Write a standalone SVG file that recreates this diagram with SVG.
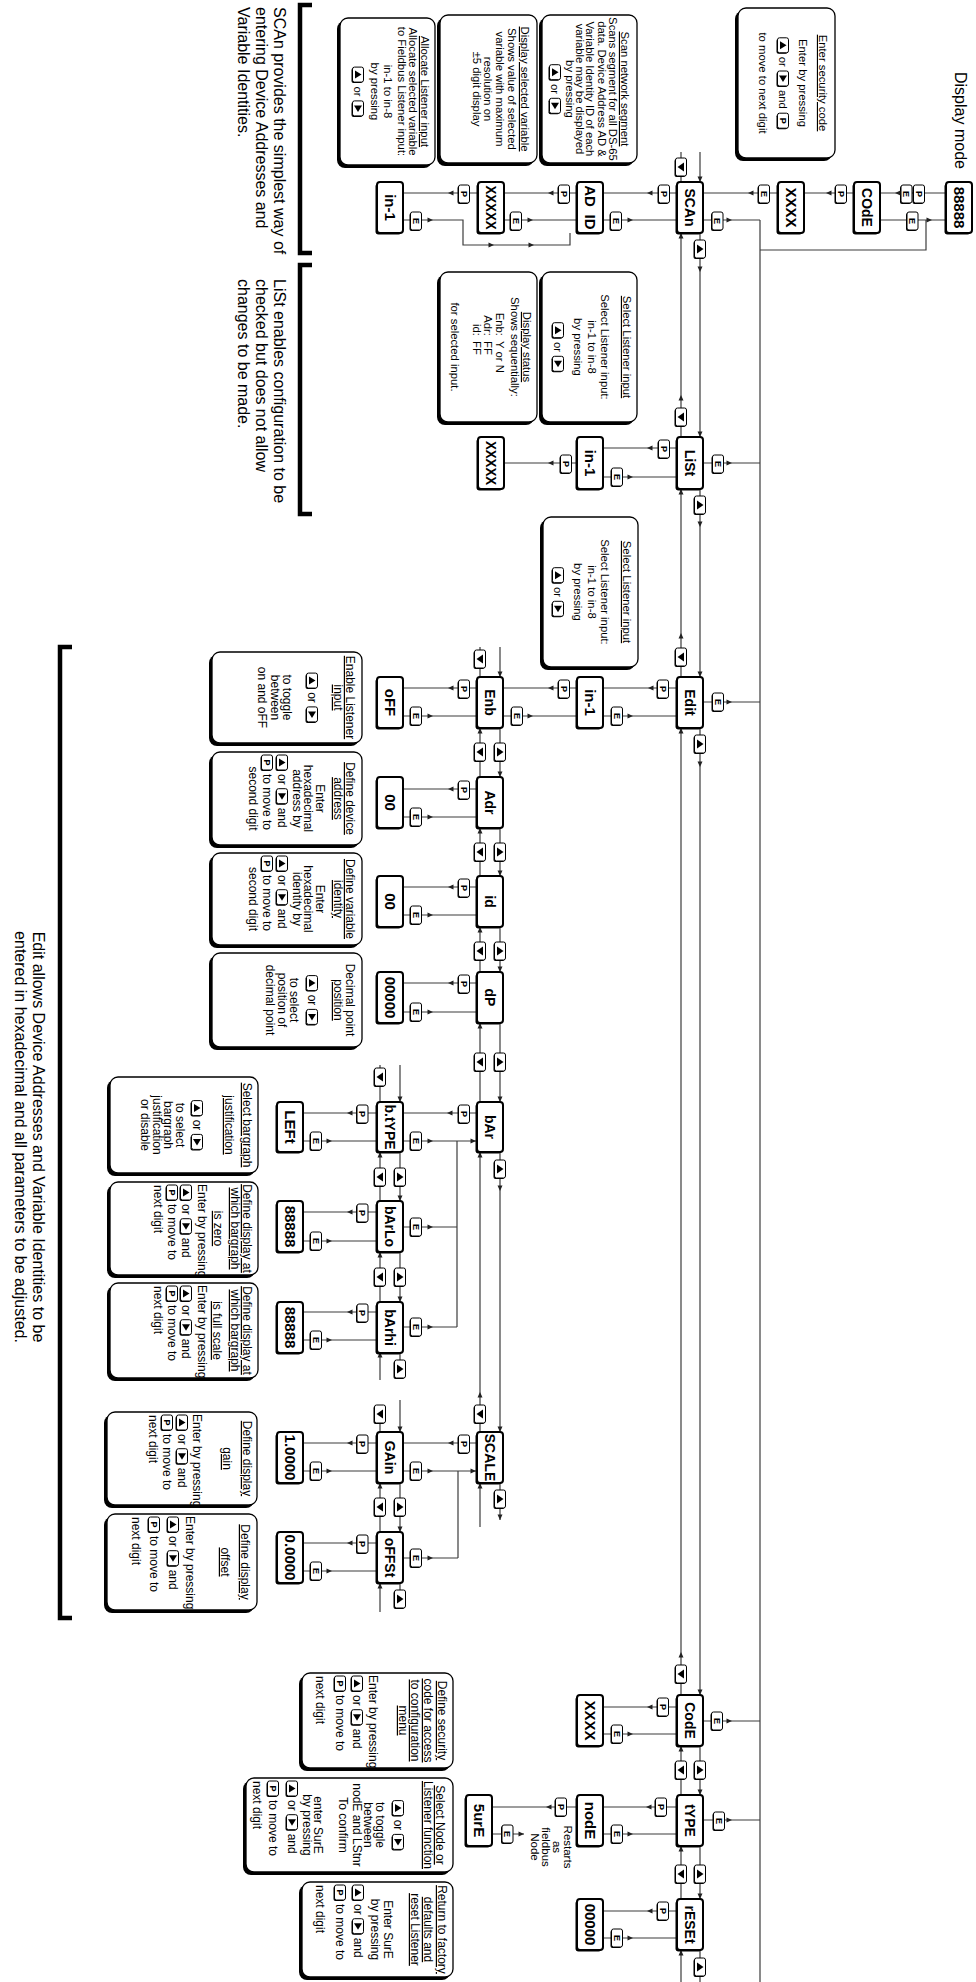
<svg xmlns="http://www.w3.org/2000/svg" width="976" height="1982" viewBox="0 0 976 1982">
<style>
text{font-family:"Liberation Sans",Arial,Helvetica,sans-serif;fill:#000}
.ln{fill:none;stroke:#3c3c3c;stroke-width:1.2}
.nb{fill:#fff;stroke:#000;stroke-width:2}
.ns{fill:#000}
.nt{font-size:14px;font-weight:bold;text-anchor:middle}
.nv{font-size:15px;font-weight:bold;text-anchor:middle}
.db{fill:#fff;stroke:#000;stroke-width:1.3}
.ds{fill:#000}
.s11{font-size:11.3px}
.s12{font-size:12px}
.rn{font-size:11.5px}
.c{text-anchor:middle}
.u{text-decoration:underline}
.kb{fill:#fff;stroke:#000;stroke-width:1}
.kt{font-size:9px;font-weight:bold;text-anchor:middle}
.big{font-size:16px}
.br{fill:none;stroke:#000;stroke-width:4.5}
.ar{fill:#222}
</style>
<defs>
<g id="kE"><rect x="-8" y="-4.5" width="18" height="11" rx="2" fill="#000"/><rect class="kb" x="-9" y="-5.5" width="18" height="11" rx="2"/><text class="kt" x="0" y="3.2">E</text></g>
<g id="kP"><rect x="-8" y="-4.5" width="18" height="11" rx="2" fill="#000"/><rect class="kb" x="-9" y="-5.5" width="18" height="11" rx="2"/><text class="kt" x="0" y="3.2">P</text></g>
<g id="kU"><rect x="-8" y="-4.5" width="18" height="11" rx="2" fill="#000"/><rect class="kb" x="-9" y="-5.5" width="18" height="11" rx="2"/><path d="M-4.5 3 L4.5 3 L0 -3.5 Z" fill="#000"/></g>
<g id="kD"><rect x="-8" y="-4.5" width="18" height="11" rx="2" fill="#000"/><rect class="kb" x="-9" y="-5.5" width="18" height="11" rx="2"/><path d="M-4.5 -3 L4.5 -3 L0 3.5 Z" fill="#000"/></g>
<g id="iU"><rect x="-6.5" y="-4.5" width="15" height="11" rx="2" fill="#000"/><rect class="kb" x="-7.5" y="-5.5" width="15" height="11" rx="2"/><path d="M-4 3 L4 3 L0 -3.5 Z" fill="#000"/></g>
<g id="iR"><rect x="-6.5" y="-4.5" width="15" height="11" rx="2" fill="#000"/><rect class="kb" x="-7.5" y="-5.5" width="15" height="11" rx="2"/><path d="M-3 -4 L-3 4 L3.5 0 Z" fill="#000"/></g>
<g id="iP"><rect x="-6.5" y="-4.5" width="15" height="11" rx="2" fill="#000"/><rect class="kb" x="-7.5" y="-5.5" width="15" height="11" rx="2"/><text class="kt" x="0" y="3.2">P</text></g>
<path id="aR" class="ar" d="M0 0 L-5.5 -2.5 L-5.5 2.5 Z"/>
<path id="aL" class="ar" d="M0 0 L5.5 -2.5 L5.5 2.5 Z"/>
<path id="aU" class="ar" d="M0 0 L-2.5 5.5 L2.5 5.5 Z"/>
<path id="aD" class="ar" d="M0 0 L-2.5 -5.5 L2.5 -5.5 Z"/>
</defs>
<rect width="976" height="1982" fill="#fff"/>
<g transform="translate(976 0) rotate(90)">

<text class="big" x="72" y="21">Display mode</text>

<g id="connectors">
<path class="ln" d="M152 276H182M182 295H152M233 276H437M437 295H233M489 276H677M677 295H489M728 276H1695M1695 295H728M1746 276H1795M1795 295H1746M1846 276H1899M1899 295H1846M1950 276H1982M1982 295H1950"/>
<path class="ln" d="M220 216H1982M220 273V216M463 273V216M702 273V216M1721 273V216M1820 273V216M250 216V50H220M220 96V30M193 30V96M193 122V172M193 198V273"/>
<path class="ln" d="M193 299V373M220 373V299M193 399V472M220 472V399M193 499V573M220 573V513H245V406H233"/>
<path class="ln" d="M448 299V373M477 373V299M463 399V472"/>
<path class="ln" d="M688 299V373M716 373V299M688 399V473M716 473V399M688 499V573M716 573V499"/>
<path class="ln" d="M647 476H677M677 496H647M728 476H777M777 496H728M828 476H876M876 496H828M927 476H972M972 496H927M1023 476H1102M1102 496H1023M1152 476H1432M1432 496H1152M1483 476H1520M1527 496H1483"/>
<path class="ln" d="M789 499V573M817 573V499M887 499V573M915 573V499M983 499V573M1012 573V499M1113 499V573M1141 573V499M1141 519H1327M1227 573V519M1327 573V519M1443 499V573M1471 573V499M1471 518H1558M1558 573V518"/>
<path class="ln" d="M1065 576H1102M1102 596H1065M1152 576H1201M1201 596H1152M1252 576H1302M1302 596H1252M1352 576H1362M1380 596H1352M1400 576H1432M1432 596H1405M1483 576H1532M1532 596H1483M1583 576H1592M1612 596H1583"/>
<path class="ln" d="M1113 599V673M1141 673V599M1212 599V673M1241 673V599M1312 599V673M1340 673V599M1443 599V673M1471 673V599M1543 599V673M1571 673V599"/>
<path class="ln" d="M1707 299V373M1734 373V299M1807 299V373M1834 373V299M1807 399V484M1834 484V452M1911 299V373M1938 373V299"/>

<use href="#kD" x="167" y="295"/>
<use href="#kU" x="249" y="276"/><use href="#aR" x="272" y="276"/><use href="#aR" x="437" y="276"/>
<use href="#kD" x="417" y="295"/><use href="#aL" x="395" y="295"/><use href="#aL" x="233" y="295"/>
<use href="#aR" x="182" y="276"/>
<use href="#kU" x="505" y="276"/><use href="#aR" x="527" y="276"/><use href="#aR" x="677" y="276"/>
<use href="#kD" x="657" y="295"/><use href="#aL" x="633" y="295"/><use href="#aL" x="489" y="295"/>
<use href="#kU" x="744" y="276"/><use href="#aR" x="767" y="276"/><use href="#aR" x="1695" y="276"/>
<use href="#kD" x="1674" y="295"/><use href="#aL" x="1652" y="295"/><use href="#aL" x="728" y="295"/>
<use href="#kU" x="1770" y="276"/><use href="#aR" x="1795" y="276"/>
<use href="#kD" x="1770" y="295"/><use href="#aL" x="1746" y="295"/>
<use href="#kU" x="1874" y="276"/><use href="#aR" x="1899" y="276"/>
<use href="#kD" x="1874" y="295"/><use href="#aL" x="1846" y="295"/>
<use href="#kU" x="1967" y="276"/><use href="#aL" x="1950" y="295"/>

<use href="#kE" x="221" y="258.5"/><use href="#aU" x="220" y="244"/>
<use href="#kE" x="464" y="258"/><use href="#aU" x="463" y="244"/>
<use href="#kE" x="702" y="258"/><use href="#aU" x="702" y="244"/>
<use href="#kE" x="1721" y="259"/><use href="#aU" x="1721" y="244"/>
<use href="#kE" x="1821" y="257"/><use href="#aU" x="1820" y="244"/>
<use href="#kE" x="221" y="63.5"/><use href="#aU" x="220" y="44"/>
<use href="#kP" x="194" y="57"/><use href="#kE" x="194" y="69.5"/><use href="#aD" x="193" y="81"/>
<use href="#kP" x="194" y="135"/><use href="#aD" x="193" y="150"/>
<use href="#kE" x="194" y="212"/><use href="#aD" x="193" y="228"/>

<use href="#kP" x="194" y="312"/><use href="#aD" x="193" y="329"/>
<use href="#kE" x="221" y="360"/><use href="#aU" x="220" y="343"/>
<use href="#kP" x="194" y="412"/><use href="#aD" x="193" y="428"/>
<use href="#kE" x="221" y="460"/><use href="#aU" x="220" y="443"/>
<use href="#kP" x="194" y="512"/><use href="#aD" x="193" y="528"/>
<use href="#kE" x="221" y="560"/><use href="#aU" x="220" y="543"/>
<use href="#aU" x="245" y="482"/><use href="#aU" x="245" y="442"/>

<use href="#kP" x="449" y="312"/><use href="#aD" x="448" y="329"/>
<use href="#kE" x="477" y="359"/><use href="#aU" x="477" y="343"/>
<use href="#kP" x="464" y="410"/><use href="#aD" x="463" y="428"/>

<use href="#kP" x="689" y="313"/><use href="#aD" x="688" y="328"/>
<use href="#kE" x="716" y="359"/><use href="#aU" x="716" y="343"/>
<use href="#kP" x="689" y="412"/><use href="#aD" x="688" y="428"/>
<use href="#kE" x="716" y="459"/><use href="#aU" x="716" y="443"/>
<use href="#kP" x="689" y="512"/><use href="#aD" x="688" y="528"/>
<use href="#kE" x="716" y="560"/><use href="#aU" x="716" y="543"/>

<use href="#aR" x="677" y="476"/><use href="#kD" x="659" y="496"/>
<use href="#kU" x="752" y="476"/><use href="#aR" x="777" y="476"/><use href="#kD" x="752" y="496"/><use href="#aL" x="728" y="496"/>
<use href="#kU" x="852" y="476"/><use href="#aR" x="876" y="476"/><use href="#kD" x="852" y="496"/><use href="#aL" x="828" y="496"/>
<use href="#kU" x="951" y="476"/><use href="#aR" x="972" y="476"/><use href="#kD" x="951" y="496"/><use href="#aL" x="927" y="496"/>
<use href="#kU" x="1062" y="476"/><use href="#aR" x="1102" y="476"/><use href="#kD" x="1062" y="496"/><use href="#aL" x="1023" y="496"/>
<use href="#kU" x="1169" y="476"/><use href="#aR" x="1191" y="476"/><use href="#aR" x="1432" y="476"/>
<use href="#kD" x="1414" y="496"/><use href="#aL" x="1392" y="496"/><use href="#aL" x="1152" y="496"/>
<use href="#kU" x="1499" y="476"/><use href="#aR" x="1520" y="476"/><use href="#aL" x="1483" y="496"/>

<use href="#kP" x="790" y="512"/><use href="#aD" x="789" y="528"/><use href="#kE" x="817" y="560"/><use href="#aU" x="817" y="543"/>
<use href="#kP" x="888" y="512"/><use href="#aD" x="887" y="528"/><use href="#kE" x="915" y="560"/><use href="#aU" x="915" y="543"/>
<use href="#kP" x="984" y="512"/><use href="#aD" x="983" y="528"/><use href="#kE" x="1012" y="560"/><use href="#aU" x="1012" y="543"/>
<use href="#kP" x="1114" y="512"/><use href="#aD" x="1113" y="529"/><use href="#kE" x="1141" y="560"/><use href="#aU" x="1141" y="543"/><use href="#aU" x="1141" y="500"/>
<use href="#kE" x="1227" y="560"/><use href="#aU" x="1227" y="543"/>
<use href="#kE" x="1327" y="560"/><use href="#aU" x="1327" y="543"/>
<use href="#kP" x="1444" y="512"/><use href="#aD" x="1443" y="528"/><use href="#kE" x="1471" y="560"/><use href="#aU" x="1471" y="543"/><use href="#aU" x="1471" y="500"/>
<use href="#kE" x="1558" y="560"/><use href="#aU" x="1558" y="543"/>

<use href="#aR" x="1102" y="576"/><use href="#kD" x="1077" y="596"/>
<use href="#kU" x="1177" y="576"/><use href="#aR" x="1201" y="576"/><use href="#kD" x="1177" y="596"/><use href="#aL" x="1152" y="596"/>
<use href="#kU" x="1277" y="576"/><use href="#aR" x="1302" y="576"/><use href="#kD" x="1277" y="596"/><use href="#aL" x="1252" y="596"/>
<use href="#kU" x="1369" y="576"/><use href="#aL" x="1352" y="596"/>
<use href="#aR" x="1432" y="576"/><use href="#kD" x="1414" y="596"/>
<use href="#kU" x="1507" y="576"/><use href="#aR" x="1532" y="576"/><use href="#kD" x="1507" y="596"/><use href="#aL" x="1483" y="596"/>
<use href="#kU" x="1599" y="576"/><use href="#aL" x="1583" y="596"/>

<use href="#kP" x="1114" y="613.5"/><use href="#aD" x="1113" y="629"/><use href="#kE" x="1141" y="660"/><use href="#aU" x="1141" y="644"/>
<use href="#kP" x="1213" y="613.5"/><use href="#aD" x="1212" y="629"/><use href="#kE" x="1241" y="660"/><use href="#aU" x="1241" y="644"/>
<use href="#kP" x="1313" y="613.5"/><use href="#aD" x="1312" y="629"/><use href="#kE" x="1340" y="660"/><use href="#aU" x="1340" y="644"/>
<use href="#kP" x="1444" y="613.5"/><use href="#aD" x="1443" y="629"/><use href="#kE" x="1471" y="660"/><use href="#aU" x="1471" y="644"/>
<use href="#kP" x="1544" y="613.5"/><use href="#aD" x="1543" y="629"/><use href="#kE" x="1571" y="660"/><use href="#aU" x="1571" y="644"/>

<use href="#kP" x="1707" y="313"/><use href="#aD" x="1707" y="329"/><use href="#kE" x="1734" y="359"/><use href="#aU" x="1734" y="343"/>
<use href="#kP" x="1807" y="315"/><use href="#aD" x="1807" y="330"/><use href="#kE" x="1834" y="359"/><use href="#aU" x="1834" y="343"/>
<use href="#kP" x="1807" y="415"/><use href="#aD" x="1807" y="430"/><use href="#kE" x="1834" y="468.5"/><use href="#aU" x="1834" y="452"/>
<use href="#kP" x="1911" y="313"/><use href="#aD" x="1911" y="329"/><use href="#kE" x="1938" y="359"/><use href="#aU" x="1938" y="343"/>
</g>

<g id="n-display"><rect class="ns" x="183.5" y="5.5" width="51" height="26" rx="3"/><rect class="nb" x="182" y="4" width="51" height="26" rx="3"/><text class="nv" x="207.5" y="22.5">88888</text></g>
<g id="n-code1"><rect class="ns" x="183.5" y="97.5" width="51" height="26" rx="3"/><rect class="nb" x="182" y="96" width="51" height="26" rx="3"/><text class="nt" x="207.5" y="114">COdE</text></g>
<g id="n-xxxx1"><rect class="ns" x="183.5" y="173.5" width="51" height="26" rx="3"/><rect class="nb" x="182" y="172" width="51" height="26" rx="3"/><text class="nv" x="207.5" y="190.5">XXXX</text></g>
<g id="n-scan"><rect class="ns" x="183.5" y="274.5" width="51" height="26" rx="3"/><rect class="nb" x="182" y="273" width="51" height="26" rx="3"/><text class="nt" x="207.5" y="291">SCAn</text></g>
<g id="n-adid"><rect class="ns" x="183.5" y="374.5" width="51" height="26" rx="3"/><rect class="nb" x="182" y="373" width="51" height="26" rx="3"/><text class="nv" x="196" y="391.5">AD</text><text class="nv" x="222" y="391.5">ID</text></g>
<g id="n-scanval"><rect class="ns" x="183.5" y="473.5" width="51" height="26" rx="3"/><rect class="nb" x="182" y="472" width="51" height="26" rx="3"/><text class="nv" x="207.5" y="490.5" textLength="44" lengthAdjust="spacingAndGlyphs">XXXXX</text></g>
<g id="n-scanin"><rect class="ns" x="183.5" y="574.5" width="51" height="26" rx="3"/><rect class="nb" x="182" y="573" width="51" height="26" rx="3"/><text class="nv" x="207.5" y="591.5">in-1</text></g>
<g id="n-list"><rect class="ns" x="438.5" y="274.5" width="52" height="26" rx="3"/><rect class="nb" x="437" y="273" width="52" height="26" rx="3"/><text class="nt" x="463" y="291">LiSt</text></g>
<g id="n-listin"><rect class="ns" x="438.5" y="374.5" width="52" height="26" rx="3"/><rect class="nb" x="437" y="373" width="52" height="26" rx="3"/><text class="nv" x="463" y="391.5">in-1</text></g>
<g id="n-listval"><rect class="ns" x="438.5" y="473.5" width="52" height="26" rx="3"/><rect class="nb" x="437" y="472" width="52" height="26" rx="3"/><text class="nv" x="463" y="490.5" textLength="44" lengthAdjust="spacingAndGlyphs">XXXXX</text></g>
<g id="n-edit"><rect class="ns" x="678.5" y="274.5" width="51" height="26" rx="3"/><rect class="nb" x="677" y="273" width="51" height="26" rx="3"/><text class="nt" x="702.5" y="291">Edit</text></g>
<g id="n-editin"><rect class="ns" x="678.5" y="374.5" width="51" height="26" rx="3"/><rect class="nb" x="677" y="373" width="51" height="26" rx="3"/><text class="nv" x="702.5" y="391.5">in-1</text></g>
<g id="n-enb"><rect class="ns" x="678.5" y="474.5" width="51" height="26" rx="3"/><rect class="nb" x="677" y="473" width="51" height="26" rx="3"/><text class="nt" x="702.5" y="491">Enb</text></g>
<g id="n-off"><rect class="ns" x="678.5" y="574.5" width="51" height="26" rx="3"/><rect class="nb" x="677" y="573" width="51" height="26" rx="3"/><text class="nv" x="702.5" y="591.5">oFF</text></g>
<g id="n-adr"><rect class="ns" x="778.5" y="474.5" width="51" height="26" rx="3"/><rect class="nb" x="777" y="473" width="51" height="26" rx="3"/><text class="nt" x="802.5" y="491">Adr</text></g>
<g id="n-adrval"><rect class="ns" x="778.5" y="574.5" width="51" height="26" rx="3"/><rect class="nb" x="777" y="573" width="51" height="26" rx="3"/><text class="nv" x="802.5" y="591.5">00</text></g>
<g id="n-id"><rect class="ns" x="877.5" y="474.5" width="51" height="26" rx="3"/><rect class="nb" x="876" y="473" width="51" height="26" rx="3"/><text class="nt" x="901.5" y="491">id</text></g>
<g id="n-idval"><rect class="ns" x="877.5" y="574.5" width="51" height="26" rx="3"/><rect class="nb" x="876" y="573" width="51" height="26" rx="3"/><text class="nv" x="901.5" y="591.5">00</text></g>
<g id="n-dp"><rect class="ns" x="973.5" y="474.5" width="51" height="26" rx="3"/><rect class="nb" x="972" y="473" width="51" height="26" rx="3"/><text class="nt" x="997.5" y="491">dP</text></g>
<g id="n-dpval"><rect class="ns" x="973.5" y="574.5" width="51" height="26" rx="3"/><rect class="nb" x="972" y="573" width="51" height="26" rx="3"/><text class="nv" x="997.5" y="591.5">00000</text></g>
<g id="n-bar"><rect class="ns" x="1103.5" y="474.5" width="50" height="26" rx="3"/><rect class="nb" x="1102" y="473" width="50" height="26" rx="3"/><text class="nt" x="1127" y="491">bAr</text></g>
<g id="n-btype"><rect class="ns" x="1103.5" y="574.5" width="50" height="26" rx="3"/><rect class="nb" x="1102" y="573" width="50" height="26" rx="3"/><text class="nt" x="1127" y="591">b.tYPE</text></g>
<g id="n-left"><rect class="ns" x="1103.5" y="674.5" width="50" height="26" rx="3"/><rect class="nb" x="1102" y="673" width="50" height="26" rx="3"/><text class="nv" x="1127" y="691.5">LEFt</text></g>
<g id="n-barlo"><rect class="ns" x="1202.5" y="574.5" width="51" height="26" rx="3"/><rect class="nb" x="1201" y="573" width="51" height="26" rx="3"/><text class="nt" x="1226.5" y="591">bArLo</text></g>
<g id="n-loval"><rect class="ns" x="1202.5" y="674.5" width="51" height="26" rx="3"/><rect class="nb" x="1201" y="673" width="51" height="26" rx="3"/><text class="nv" x="1226.5" y="691.5">88888</text></g>
<g id="n-barhi"><rect class="ns" x="1303.5" y="574.5" width="51" height="26" rx="3"/><rect class="nb" x="1302" y="573" width="51" height="26" rx="3"/><text class="nt" x="1327.5" y="591">bArhi</text></g>
<g id="n-hival"><rect class="ns" x="1303.5" y="674.5" width="51" height="26" rx="3"/><rect class="nb" x="1302" y="673" width="51" height="26" rx="3"/><text class="nv" x="1327.5" y="691.5">88888</text></g>
<g id="n-scale"><rect class="ns" x="1433.5" y="474.5" width="51" height="26" rx="3"/><rect class="nb" x="1432" y="473" width="51" height="26" rx="3"/><text class="nt" x="1457.5" y="491">SCALE</text></g>
<g id="n-gain"><rect class="ns" x="1433.5" y="574.5" width="51" height="26" rx="3"/><rect class="nb" x="1432" y="573" width="51" height="26" rx="3"/><text class="nt" x="1457.5" y="591">GAin</text></g>
<g id="n-gainval"><rect class="ns" x="1433.5" y="674.5" width="51" height="26" rx="3"/><rect class="nb" x="1432" y="673" width="51" height="26" rx="3"/><text class="nv" x="1457.5" y="691.5">1.0000</text></g>
<g id="n-offst"><rect class="ns" x="1533.5" y="574.5" width="51" height="26" rx="3"/><rect class="nb" x="1532" y="573" width="51" height="26" rx="3"/><text class="nt" x="1557.5" y="591">oFFSt</text></g>
<g id="n-offval"><rect class="ns" x="1533.5" y="674.5" width="51" height="26" rx="3"/><rect class="nb" x="1532" y="673" width="51" height="26" rx="3"/><text class="nv" x="1557.5" y="691.5">0.0000</text></g>
<g id="n-code"><rect class="ns" x="1696.5" y="274.5" width="51" height="26" rx="3"/><rect class="nb" x="1695" y="273" width="51" height="26" rx="3"/><text class="nt" x="1720.5" y="291">CodE</text></g>
<g id="n-codeval"><rect class="ns" x="1696.5" y="374.5" width="51" height="26" rx="3"/><rect class="nb" x="1695" y="373" width="51" height="26" rx="3"/><text class="nv" x="1720.5" y="391.5">XXXX</text></g>
<g id="n-type"><rect class="ns" x="1796.5" y="274.5" width="51" height="26" rx="3"/><rect class="nb" x="1795" y="273" width="51" height="26" rx="3"/><text class="nt" x="1820.5" y="291">tYPE</text></g>
<g id="n-node"><rect class="ns" x="1796.5" y="374.5" width="51" height="26" rx="3"/><rect class="nb" x="1795" y="373" width="51" height="26" rx="3"/><text class="nv" x="1820.5" y="391.5">nodE</text></g>
<g id="n-sure"><rect class="ns" x="1796.5" y="485.5" width="51" height="26" rx="3"/><rect class="nb" x="1795" y="484" width="51" height="26" rx="3"/><text class="nv" x="1820.5" y="502.5">5urE</text></g>
<g id="n-reset"><rect class="ns" x="1900.5" y="274.5" width="51" height="26" rx="3"/><rect class="nb" x="1899" y="273" width="51" height="26" rx="3"/><text class="nt" x="1924.5" y="291">rESEt</text></g>
<g id="n-resetval"><rect class="ns" x="1900.5" y="374.5" width="51" height="26" rx="3"/><rect class="nb" x="1899" y="373" width="51" height="26" rx="3"/><text class="nv" x="1924.5" y="391.5">00000</text></g>

<g id="restarts-note" class="rn"><text class="c" x="1847" y="412">Restarts</text><text class="c" x="1847" y="423">as</text><text class="c" x="1847" y="434">fieldbus</text><text class="c" x="1847" y="445">Node</text></g>

<g id="d1" class="s11"><rect class="ds" x="11" y="144" width="150" height="97" rx="8"/><rect class="db" x="8" y="141" width="150" height="97" rx="8"/>
<text class="c u" x="83" y="157">Enter security code</text><text class="c" x="83" y="177">Enter by pressing</text>
<use href="#iU" x="45.3" y="193"/><text x="56.8" y="197">or</text><use href="#iR" x="78.5" y="193"/><text x="90" y="197">and</text><use href="#iP" x="120.7" y="193"/>
<text class="c" x="83" y="217">to move to next digit</text></g>

<g id="d2" class="s11"><rect class="ds" x="18" y="342" width="148" height="95" rx="8"/><rect class="db" x="15" y="339" width="148" height="95" rx="8"/>
<text class="c u" x="89" y="355">Scan network segment</text><text class="c" x="89" y="367">Scans segment for all DS-65</text><text class="c" x="89" y="378">data. Device Address AD &amp;</text><text class="c" x="89" y="390">Variable Identity ID of each</text><text class="c" x="89" y="400">variable may be displayed</text><text class="c" x="89" y="410">by pressing</text>
<use href="#iU" x="72.2" y="421"/><text class="c" x="89" y="425">or</text><use href="#iR" x="105.8" y="421"/></g>

<g id="d3" class="s11"><rect class="ds" x="18" y="442" width="148" height="97" rx="8"/><rect class="db" x="15" y="439" width="148" height="97" rx="8"/>
<text class="c u" x="89" y="455">Display selected variable</text><text class="c" x="89" y="468">Shows value of selected</text><text class="c" x="89" y="480">variable with maximum</text><text class="c" x="89" y="492">resolution on</text><text class="c" x="89" y="503">±5 digit display</text></g>

<g id="d4" class="s11"><rect class="ds" x="21" y="544" width="147" height="95" rx="8"/><rect class="db" x="18" y="541" width="147" height="95" rx="8"/>
<text class="c u" x="91.5" y="555">Allocate Listener input</text><text class="c" x="91.5" y="567">Allocate selected variable</text><text class="c" x="91.5" y="578">to Fieldbus Listener input:</text><text class="c" x="91.5" y="592">in-1 to in-8</text><text class="c" x="91.5" y="605">by pressing</text>
<use href="#iU" x="74.6" y="618"/><text class="c" x="91.5" y="622">or</text><use href="#iR" x="108.4" y="618"/></g>

<g id="d5" class="s11"><rect class="ds" x="275" y="342" width="150" height="95" rx="8"/><rect class="db" x="272" y="339" width="150" height="95" rx="8"/>
<text class="c u" x="347" y="353">Select Listener input</text><text class="c" x="347" y="375">Select Listener input:</text><text class="c" x="347" y="388">in-1 to in-8</text><text class="c" x="347" y="402">by pressing</text>
<use href="#iU" x="330.2" y="418"/><text class="c" x="347" y="422">or</text><use href="#iR" x="363.8" y="418"/></g>

<g id="d6" class="s11"><rect class="ds" x="275" y="442" width="150" height="97" rx="8"/><rect class="db" x="272" y="439" width="150" height="97" rx="8"/>
<text class="c u" x="347" y="453">Display status</text><text class="c" x="347" y="465">Shows sequentially:</text>
<text x="336" y="480" text-anchor="end">Enb:</text><text x="341" y="480">Y or N</text>
<text x="336" y="492" text-anchor="end">Adr:</text><text x="341" y="492">FF</text>
<text x="336" y="503" text-anchor="end">id:</text><text x="341" y="503">FF</text>
<text class="c" x="347" y="525">for selected input.</text></g>

<g id="d7" class="s11"><rect class="ds" x="520" y="341" width="150" height="95" rx="8"/><rect class="db" x="517" y="338" width="150" height="95" rx="8"/>
<text class="c u" x="592" y="353">Select Listener input</text><text class="c" x="592" y="375">Select Listener input:</text><text class="c" x="592" y="388">in-1 to in-8</text><text class="c" x="592" y="402">by pressing</text>
<use href="#iU" x="575.2" y="418"/><text class="c" x="592" y="422">or</text><use href="#iR" x="608.8" y="418"/></g>

<g id="d8" class="s12"><rect class="ds" x="655" y="617" width="91" height="150" rx="8"/><rect class="db" x="652" y="614" width="91" height="150" rx="8"/>
<text class="c u" x="697.5" y="630">Enable Listener</text><text class="c u" x="697.5" y="642">input</text>
<use href="#iU" x="680.6" y="664"/><text class="c" x="697.5" y="668">or</text><use href="#iR" x="714.4" y="664"/>
<text class="c" x="697.5" y="693">to toggle</text><text class="c" x="697.5" y="705">between</text><text class="c" x="697.5" y="718">on and oFF</text></g>

<g id="d9" class="s12"><rect class="ds" x="755" y="617" width="93" height="150" rx="8"/><rect class="db" x="752" y="614" width="93" height="150" rx="8"/>
<text class="c u" x="798.5" y="630">Define device</text><text class="c u" x="798.5" y="642">address</text><text class="c" x="798.5" y="660">Enter</text><text class="c" x="798.5" y="672">hexadecimal</text><text class="c" x="798.5" y="683">address by</text>
<use href="#iU" x="762.5" y="694"/><text x="774" y="698">or</text><use href="#iR" x="796.2" y="694"/><text x="807.7" y="698">and</text>
<use href="#iP" x="762.5" y="709"/><text x="774" y="713">to move to</text><text class="c" x="798.5" y="727">second  digit</text></g>

<g id="d10" class="s12"><rect class="ds" x="856" y="617" width="92" height="150" rx="8"/><rect class="db" x="853" y="614" width="92" height="150" rx="8"/>
<text class="c u" x="899" y="630">Define variable</text><text class="c u" x="899" y="642">identity</text><text class="c" x="899" y="660">Enter</text><text class="c" x="899" y="672">hexadecimal</text><text class="c" x="899" y="683">identity by</text>
<use href="#iU" x="863.5" y="694"/><text x="875" y="698">or</text><use href="#iR" x="897.2" y="694"/><text x="908.7" y="698">and</text>
<use href="#iP" x="863.5" y="709"/><text x="875" y="713">to move to</text><text class="c" x="899" y="727">second  digit</text></g>

<g id="d11" class="s12"><rect class="ds" x="956" y="617" width="94" height="150" rx="8"/><rect class="db" x="953" y="614" width="94" height="150" rx="8"/>
<text class="c" x="1000" y="630">Decimal point</text><text class="c u" x="1000" y="642">position</text>
<use href="#iU" x="983.1" y="664"/><text class="c" x="1000" y="668">or</text><use href="#iR" x="1016.9" y="664"/>
<text class="c" x="1000" y="686">to select</text><text class="c" x="1000" y="698">position of</text><text class="c" x="1000" y="710">decimal point</text></g>

<g id="d12" class="s12"><rect class="ds" x="1080" y="721" width="96" height="148" rx="8"/><rect class="db" x="1077" y="718" width="96" height="148" rx="8"/>
<text class="c u" x="1125" y="733">Select bargraph</text><text class="c u" x="1125" y="751">justification</text>
<use href="#iU" x="1108.1" y="779"/><text class="c" x="1125" y="783">or</text><use href="#iR" x="1141.9" y="779"/>
<text class="c" x="1125" y="800">to select</text><text class="c" x="1125" y="812">bargraph</text><text class="c" x="1125" y="823">justification</text><text class="c" x="1125" y="835">or disable</text></g>

<g id="d13" class="s12"><rect class="ds" x="1185" y="721" width="93" height="148" rx="8"/><rect class="db" x="1182" y="718" width="93" height="148" rx="8"/>
<text class="c u" x="1228.5" y="733">Define display at</text><text class="c u" x="1228.5" y="745">which bargraph</text><text class="c u" x="1228.5" y="762">is zero</text>
<text x="1184" y="778">Enter by pressing</text>
<use href="#iU" x="1192.5" y="790"/><text x="1204" y="794">or</text><use href="#iR" x="1226.2" y="790"/><text x="1237.7" y="794">and</text>
<use href="#iP" x="1192.5" y="804"/><text x="1204" y="808">to move to</text><text x="1185" y="822">next  digit</text></g>

<g id="d14" class="s12"><rect class="ds" x="1286" y="721" width="95" height="148" rx="8"/><rect class="db" x="1283" y="718" width="95" height="148" rx="8"/>
<text class="c u" x="1330.5" y="733">Define display at</text><text class="c u" x="1330.5" y="745">which bargraph</text><text class="c u" x="1330.5" y="763">is full scale</text>
<text x="1285" y="778">Enter by pressing</text>
<use href="#iU" x="1293.5" y="790"/><text x="1305" y="794">or</text><use href="#iR" x="1327.2" y="790"/><text x="1338.7" y="794">and</text>
<use href="#iP" x="1293.5" y="804"/><text x="1305" y="808">to move to</text><text x="1286" y="822">next  digit</text></g>

<g id="d15" class="s12"><rect class="ds" x="1415" y="722" width="93" height="150" rx="8"/><rect class="db" x="1412" y="719" width="93" height="150" rx="8"/>
<text class="c u" x="1458.5" y="733">Define display</text><text class="c u" x="1458.5" y="753">gain</text>
<text x="1414" y="783">Enter by pressing</text>
<use href="#iU" x="1422.5" y="794"/><text x="1434" y="798">or</text><use href="#iR" x="1456.2" y="794"/><text x="1467.7" y="798">and</text>
<use href="#iP" x="1422.5" y="809"/><text x="1434" y="813">to move to</text><text x="1415" y="827">next  digit</text></g>

<g id="d16" class="s12"><rect class="ds" x="1517" y="722" width="96" height="150" rx="8"/><rect class="db" x="1514" y="719" width="96" height="150" rx="8"/>
<text class="c u" x="1562" y="735">Define display</text><text class="c u" x="1562" y="755">offset</text>
<text x="1516" y="790">Enter by pressing</text>
<use href="#iU" x="1524.5" y="803"/><text x="1536" y="807">or</text><use href="#iR" x="1558.2" y="803"/><text x="1569.7" y="807">and</text>
<use href="#iP" x="1524.5" y="822"/><text x="1536" y="826">to move to</text><text x="1517" y="844">next  digit</text></g>

<g id="d17" class="s12"><rect class="ds" x="1676" y="526" width="95" height="151" rx="8"/><rect class="db" x="1673" y="523" width="95" height="151" rx="8"/>
<text class="c u" x="1720.5" y="538">Define security</text><text class="c u" x="1720.5" y="552">code for access</text><text class="c u" x="1720.5" y="565">to configuration</text><text class="c u" x="1720.5" y="577">menu</text>
<text x="1675" y="607">Enter by pressing</text>
<use href="#iU" x="1683.5" y="619"/><text x="1695" y="623">or</text><use href="#iR" x="1717.2" y="619"/><text x="1728.7" y="623">and</text>
<use href="#iP" x="1683.5" y="636"/><text x="1695" y="640">to move to</text><text x="1676" y="660">next  digit</text></g>

<g id="d18" class="s12"><rect class="ds" x="1781" y="526" width="94" height="207" rx="8"/><rect class="db" x="1778" y="523" width="94" height="207" rx="8"/>
<text class="c u" x="1825" y="540">Select Node or</text><text class="c u" x="1825" y="552">Listener function</text>
<use href="#iU" x="1808.1" y="578"/><text class="c" x="1825" y="582">or</text><use href="#iR" x="1841.9" y="578"/>
<text class="c" x="1825" y="600">to toggle</text><text class="c" x="1825" y="612">between</text><text class="c" x="1825" y="623">nodE and LStnr</text><text class="c" x="1825" y="637">To confirm</text><text class="c" x="1825" y="662">enter SurE</text><text class="c" x="1825" y="673">by pressing</text>
<use href="#iU" x="1788.5" y="684"/><text x="1800" y="688">or</text><use href="#iR" x="1822.2" y="684"/><text x="1833.7" y="688">and</text>
<use href="#iP" x="1788.5" y="703"/><text x="1800" y="707">to move to</text><text x="1781" y="723">next digit</text></g>

<g id="d19" class="s12"><rect class="ds" x="1885" y="526" width="95" height="151" rx="8"/><rect class="db" x="1882" y="523" width="95" height="151" rx="8"/>
<text class="c u" x="1929.5" y="538">Return to factory</text><text class="c u" x="1929.5" y="552">defaults and</text><text class="c u" x="1929.5" y="565">reset Listener</text>
<text class="c" x="1929.5" y="592">Enter SurE</text><text class="c" x="1929.5" y="605">by pressing</text>
<use href="#iU" x="1892.5" y="618"/><text x="1904" y="622">or</text><use href="#iR" x="1926.2" y="618"/><text x="1937.7" y="622">and</text>
<use href="#iP" x="1892.5" y="636"/><text x="1904" y="640">to move to</text><text x="1885" y="660">next  digit</text></g>

<g id="bracket-scan"><path class="br" d="M5 664V676H253V664"/>
<text class="big" x="7" y="702">SCAn provides the simplest way of</text><text class="big" x="7" y="720">entering Device Addresses and</text><text class="big" x="7" y="738">Variable Identities.</text></g>
<g id="bracket-list"><path class="br" d="M265 664V676H514V664"/>
<text class="big" x="279" y="702">LiSt enables configuration to be</text><text class="big" x="279" y="720">checked but does not allow</text><text class="big" x="279" y="738">changes to be made.</text></g>
<g id="bracket-edit"><path class="br" d="M647 904V916H1618V904"/>
<text class="big c" x="1137" y="943">Edit allows Device Addresses and Variable Identities to be</text><text class="big c" x="1137" y="961">entered in hexadecimal and all parameters to be adjusted.</text></g>
</g>
</svg>
